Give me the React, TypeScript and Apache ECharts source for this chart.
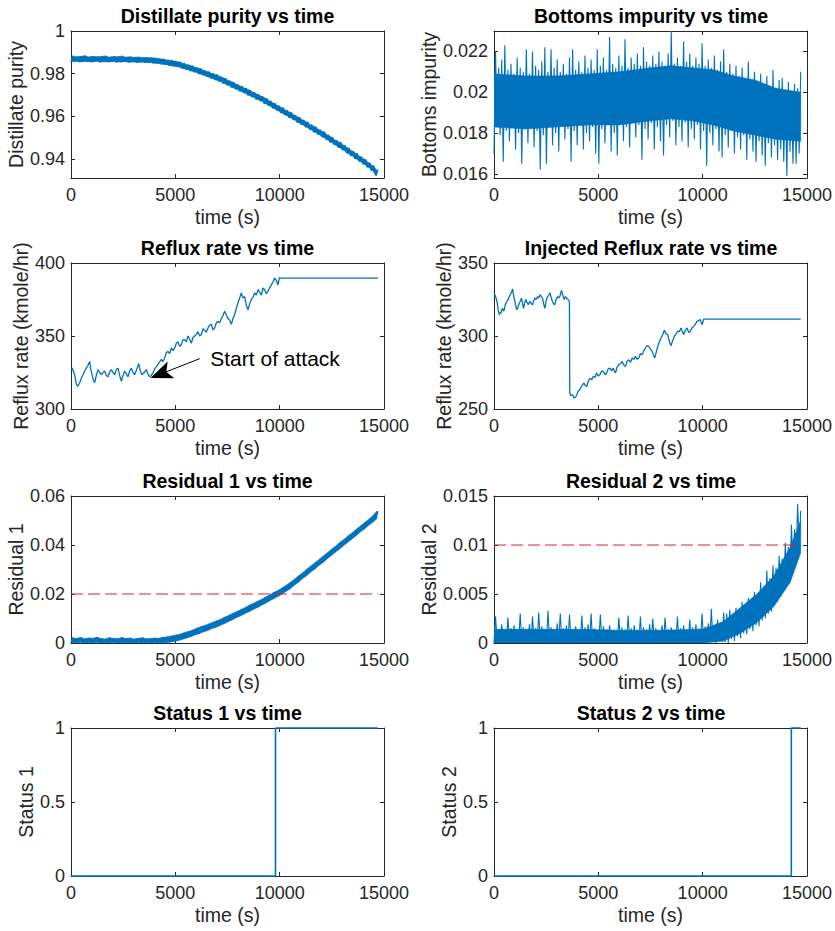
import { useEffect, useRef } from "react";
import * as echarts from "echarts";

// ---------------- data ----------------
const T_END = 14700;
const X_MAX = 15000;
const X_INTERVAL = 5000;
const X_NAME = "time (s)";

// noisy signals: consecutive values (low / high excursions), evenly spaced in time from 0 to T_END
const distillatePurity = [
  0.9856, 0.9882, 0.9858, 0.9879, 0.9855, 0.988, 0.9857, 0.9884, 0.9856, 0.9878,
  0.9855, 0.9881, 0.9858, 0.9879, 0.9854, 0.988, 0.9856, 0.9883, 0.9855, 0.9877,
  0.9857, 0.988, 0.9854, 0.9879, 0.9855, 0.9882, 0.9856, 0.9877, 0.9853, 0.9879,
  0.9855, 0.9876, 0.9852, 0.9878, 0.9854, 0.9875, 0.9851, 0.9876, 0.9852, 0.9874,
  0.9849, 0.9873, 0.9848, 0.987, 0.9844, 0.9868, 0.9842, 0.9864, 0.9837, 0.9862,
  0.9835, 0.9858, 0.9831, 0.9855, 0.9824, 0.9848, 0.9819, 0.9841, 0.9812, 0.9837,
  0.9807, 0.9829, 0.9799, 0.9824, 0.9793, 0.9815, 0.9785, 0.9809, 0.9778, 0.98,
  0.977, 0.9795, 0.9763, 0.9785, 0.9753, 0.9778, 0.9745, 0.9767, 0.9735, 0.976,
  0.9727, 0.9749, 0.9717, 0.9741, 0.9709, 0.9731, 0.9698, 0.9723, 0.969, 0.9712,
  0.9679, 0.9703, 0.9671, 0.9693, 0.9659, 0.9684, 0.9649, 0.9671, 0.9637, 0.9661,
  0.9627, 0.9649, 0.9615, 0.964, 0.9605, 0.9627, 0.9593, 0.9618, 0.9583, 0.9605,
  0.957, 0.9595, 0.956, 0.9582, 0.9548, 0.9573, 0.9537, 0.9559, 0.9525, 0.955,
  0.9514, 0.9536, 0.9502, 0.9527, 0.949, 0.9512, 0.9477, 0.9502, 0.9465, 0.9487,
  0.9452, 0.9477, 0.9441, 0.9463, 0.9426, 0.9451, 0.9414, 0.9436, 0.94, 0.9425,
  0.9388, 0.941, 0.9374, 0.9398, 0.936, 0.9382, 0.9344, 0.9368, 0.9322, 0.9348,
];

const bottomsImpurity = [
  0.017, 0.022, 0.0183, 0.0212, 0.0179, 0.0216, 0.0166, 0.0223, 0.0181, 0.0211,
  0.0176, 0.0214, 0.0184, 0.0209, 0.0172, 0.0217, 0.018, 0.0212, 0.0165, 0.021,
  0.0182, 0.0221, 0.0175, 0.0209, 0.0183, 0.022, 0.0173, 0.0213, 0.0181, 0.0211,
  0.0162, 0.0215, 0.0179, 0.0222, 0.0165, 0.021, 0.0184, 0.0221, 0.0174, 0.0212,
  0.018, 0.0216, 0.0171, 0.021, 0.0183, 0.0214, 0.0177, 0.0209, 0.0182, 0.0217,
  0.0166, 0.0221, 0.0181, 0.0211, 0.0174, 0.0215, 0.0184, 0.021, 0.0172, 0.0218,
  0.018, 0.0212, 0.0176, 0.0216, 0.0183, 0.0211, 0.017, 0.0221, 0.0165, 0.0213,
  0.0182, 0.0217, 0.0175, 0.0211, 0.0184, 0.0227, 0.0171, 0.0214, 0.018, 0.0212,
  0.0169, 0.0218, 0.0185, 0.0213, 0.0176, 0.0226, 0.0183, 0.0212, 0.0173, 0.0217,
  0.0186, 0.0214, 0.0178, 0.0219, 0.0184, 0.0213, 0.0167, 0.0222, 0.0182, 0.0215,
  0.0177, 0.0213, 0.0185, 0.0218, 0.0172, 0.0214, 0.0183, 0.022, 0.0176, 0.0215,
  0.0169, 0.0213, 0.0184, 0.0219, 0.0178, 0.023, 0.0186, 0.0214, 0.0174, 0.0217,
  0.0183, 0.0213, 0.0176, 0.0225, 0.0185, 0.0215, 0.0173, 0.0219, 0.0182, 0.0213,
  0.0177, 0.0217, 0.0184, 0.0214, 0.0172, 0.0224, 0.0181, 0.0213, 0.0164, 0.0216,
  0.018, 0.0212, 0.0174, 0.0218, 0.0182, 0.0211, 0.0171, 0.0215, 0.0168, 0.0221,
  0.0179, 0.021, 0.0173, 0.0214, 0.0181, 0.0209, 0.017, 0.0213, 0.0178, 0.0208,
  0.0172, 0.0212, 0.0179, 0.0207, 0.0167, 0.0215, 0.0177, 0.0206, 0.0171, 0.021,
  0.0166, 0.0205, 0.0176, 0.0209, 0.0169, 0.0204, 0.0164, 0.0208, 0.0175, 0.0203,
  0.0168, 0.0211, 0.0174, 0.0202, 0.0167, 0.0206, 0.0172, 0.0207, 0.0166, 0.0201,
  0.0159, 0.0205, 0.0171, 0.02, 0.0165, 0.0204, 0.0165, 0.0202, 0.017, 0.021,
];
// dense core of the bottoms-impurity band (where the trace is solid)
const bottomsCoreTimes = [0, 1500, 3000, 4500, 6000, 7500, 8500, 9500, 10500, 11500, 12500, 13500, 14700];
const bottomsCoreLow = [0.0183, 0.0182, 0.0183, 0.0184, 0.0184, 0.0186, 0.0187, 0.0186, 0.0184, 0.0181, 0.0179, 0.0177, 0.0176];
const bottomsCoreHigh = [0.0209, 0.0208, 0.0208, 0.0209, 0.021, 0.0212, 0.0213, 0.0212, 0.0211, 0.0208, 0.0206, 0.0202, 0.02];

const refluxRate: [number, number][] = [
  [0, 327], [48, 328], [110, 326], [176, 323.5], [240, 318], [304, 315.5], [360, 316.5],
  [415, 318], [495, 321], [575, 323.5], [655, 326], [735, 328], [815, 330], [895, 332.6],
  [950, 327], [1006, 323.5], [1070, 320], [1134, 318], [1214, 323], [1294, 327], [1374, 325],
  [1454, 323.5], [1533, 325], [1613, 326], [1693, 323], [1773, 322], [1853, 325.5], [1933, 327],
  [2013, 325], [2093, 323.5], [2173, 327], [2252, 328], [2332, 323], [2412, 319], [2492, 323],
  [2572, 326], [2652, 324], [2732, 322], [2811, 326], [2891, 328], [2971, 325], [3051, 323.5],
  [3147, 327], [3243, 331], [3322, 326], [3402, 323.5], [3506, 325], [3610, 327], [3690, 324],
  [3770, 322], [3850, 323], [3930, 324.7], [4010, 327.5], [4089, 329], [4209, 331.5],
  [4329, 334], [4409, 332.5], [4489, 335], [4568, 338.5], [4648, 339.5], [4728, 338],
  [4808, 341.8], [4888, 340], [4968, 341.8], [5048, 345], [5128, 346], [5208, 343],
  [5287, 344], [5367, 347.5], [5447, 347.5], [5527, 346], [5607, 350], [5687, 348],
  [5767, 345], [5847, 349], [5926, 350], [6006, 351], [6086, 353], [6166, 350], [6246, 351],
  [6326, 355], [6406, 354], [6486, 352.5], [6565, 355.5], [6645, 357.5], [6725, 358],
  [6805, 354], [6885, 355.5], [6965, 359], [7045, 360], [7125, 359], [7204, 362], [7284, 364],
  [7364, 367], [7444, 364.5], [7524, 362], [7604, 361], [7684, 358], [7764, 362],
  [7843, 364.6], [7923, 369], [8003, 372.6], [8083, 376], [8163, 379.5], [8243, 376],
  [8323, 377], [8403, 371], [8482, 368], [8562, 372], [8642, 375], [8722, 376.5],
  [8802, 379.5], [8882, 378], [8962, 381.7], [9042, 380], [9121, 378], [9201, 383],
  [9281, 381.7], [9361, 379], [9441, 380.6], [9521, 383], [9601, 385], [9680, 387],
  [9760, 389.7], [9840, 388], [9920, 385], [9990, 390], [10048, 389.7], [14712, 389.7],
];

const injectedReflux: [number, number][] = [
  [0, 327], [48, 328.3], [95, 326], [143, 323.7], [199, 318], [255, 314.6], [295, 316],
  [334, 315.8], [374, 318], [414, 319], [454, 317], [494, 318], [533, 321], [573, 322.6],
  [629, 324], [685, 325], [733, 327], [780, 328.3], [836, 330], [892, 332.2], [948, 327],
  [1003, 323.7], [1050, 320], [1098, 318], [1154, 320], [1210, 322.6], [1265, 324],
  [1321, 326], [1369, 322], [1417, 319], [1473, 323], [1528, 325], [1584, 323],
  [1640, 321.5], [1688, 323], [1735, 323.7], [1791, 322], [1847, 321.5], [1903, 324],
  [1958, 326], [2022, 325], [2086, 327], [2150, 326], [2213, 328.3], [2268, 327], [2324, 326],
  [2380, 322], [2436, 319], [2500, 324], [2563, 327], [2627, 328], [2690, 329.5], [2746, 326],
  [2802, 323.7], [2857, 322], [2913, 321.5], [2977, 325], [3041, 327], [3080, 326.5],
  [3120, 326], [3176, 328], [3232, 331.3], [3296, 328], [3359, 325], [3423, 327], [3486, 326],
  [3550, 325], [3614, 323.7], [3630, 261], [3690, 259], [3757, 259.8], [3836, 257.5],
  [3916, 258.2], [3972, 260], [4028, 262], [4092, 263], [4155, 264.4], [4235, 266.5],
  [4314, 267.8], [4378, 266], [4442, 265.4], [4522, 269], [4601, 271], [4680, 270],
  [4760, 272.4], [4840, 271.5], [4919, 274.7], [4999, 272.5], [5078, 273.6], [5158, 276],
  [5238, 275.8], [5318, 273.5], [5397, 274.7], [5477, 277.5], [5556, 278], [5636, 276],
  [5715, 278], [5771, 276], [5827, 274.7], [5906, 279], [5986, 280.4], [6066, 281],
  [6145, 282.6], [6225, 280], [6304, 279.2], [6384, 283], [6464, 283.7], [6544, 282],
  [6623, 285], [6703, 284], [6782, 286], [6862, 284], [6941, 285], [7021, 288], [7100, 287.2],
  [7180, 290], [7260, 291.8], [7340, 293.5], [7419, 292.9], [7499, 291], [7578, 289.5],
  [7642, 287], [7705, 285], [7777, 289], [7849, 293], [7929, 296], [8008, 298.6], [8088, 301],
  [8167, 303.9], [8247, 301.5], [8326, 301], [8406, 296], [8485, 293.4], [8565, 297],
  [8645, 299.8], [8725, 301.5], [8804, 303.2], [8884, 303], [8963, 305.5], [9027, 303],
  [9090, 301], [9170, 304], [9250, 305.5], [9330, 302.5], [9409, 303.2], [9489, 305.5],
  [9568, 306.6], [9648, 308], [9727, 310], [9807, 310.5], [9886, 311.2], [9934, 309],
  [9982, 307.8], [10045, 311.6], [14700, 311.6],
];

const residual1 = [
  0.0002, 0.0021, 0.0001, 0.0018, 0.0003, 0.0022, 0.0001, 0.0017, 0.0002, 0.002,
  0.0, 0.0019, 0.0003, 0.0023, 0.0001, 0.0018, 0.0002, 0.0016, 0.0001, 0.0021,
  0.0003, 0.0019, 0.0, 0.0017, 0.0002, 0.0022, 0.0001, 0.0018, 0.0002, 0.002,
  0.0, 0.0016, 0.0002, 0.0019, 0.0001, 0.0021, 0.0002, 0.0017, 0.0, 0.0018,
  0.0002, 0.002, 0.0001, 0.0019, 0.0002, 0.0023, 0.0002, 0.0025, 0.0004, 0.0028,
  0.0007, 0.0032, 0.0011, 0.0035, 0.0016, 0.0041, 0.0021, 0.0046, 0.0027, 0.0051,
  0.0034, 0.0058, 0.0039, 0.0065, 0.0046, 0.007, 0.0051, 0.0077, 0.0059, 0.0083,
  0.0064, 0.009, 0.0072, 0.0096, 0.0079, 0.0105, 0.0088, 0.0112, 0.0095, 0.0121,
  0.0104, 0.0128, 0.0111, 0.0137, 0.012, 0.0144, 0.0128, 0.0154, 0.0137, 0.0161,
  0.0144, 0.017, 0.0154, 0.0178, 0.0162, 0.0188, 0.0172, 0.0196, 0.0181, 0.0207,
  0.019, 0.0214, 0.0199, 0.0225, 0.0211, 0.0236, 0.0221, 0.0247, 0.0236, 0.026,
  0.0248, 0.0274, 0.0263, 0.0287, 0.0275, 0.0301, 0.029, 0.0314, 0.0302, 0.0328,
  0.0317, 0.0341, 0.0329, 0.0355, 0.0344, 0.0368, 0.0357, 0.0383, 0.0371, 0.0395,
  0.0384, 0.041, 0.0398, 0.0422, 0.0411, 0.0437, 0.0425, 0.0449, 0.0438, 0.0464,
  0.0453, 0.0477, 0.0465, 0.0491, 0.048, 0.0504, 0.0492, 0.0518, 0.0507, 0.0538,
];

const residual2 = [
  0.0, 0.0027, 0.0002, 0.0014, 0.0001, 0.0019, 0.0003, 0.0012, 0.0, 0.0026,
  0.0002, 0.0015, 0.0001, 0.0018, 0.0, 0.0013, 0.0002, 0.003, 0.0001, 0.0016,
  0.0003, 0.0014, 0.0, 0.0019, 0.0001, 0.0027, 0.0002, 0.0015, 0.0, 0.0031,
  0.0001, 0.0017, 0.0002, 0.0013, 0.0, 0.0033, 0.0003, 0.0016, 0.0001, 0.0014,
  0.0, 0.002, 0.0002, 0.003, 0.0001, 0.0015, 0.0, 0.0018, 0.0002, 0.0029,
  0.0001, 0.0014, 0.0, 0.0017, 0.0003, 0.0013, 0.0001, 0.0028, 0.0, 0.0016,
  0.0002, 0.0019, 0.0001, 0.003, 0.0, 0.0015, 0.0002, 0.0013, 0.0001, 0.0029,
  0.0, 0.0017, 0.0003, 0.0014, 0.0001, 0.0018, 0.0002, 0.0008, 0.0, 0.001,
  0.0001, 0.0026, 0.0002, 0.0016, 0.0, 0.0014, 0.0001, 0.0028, 0.0003, 0.0015,
  0.0, 0.0018, 0.0002, 0.0013, 0.0001, 0.0027, 0.0, 0.0016, 0.0002, 0.0014,
  0.0001, 0.0019, 0.0, 0.0025, 0.0002, 0.0015, 0.0001, 0.0013, 0.0, 0.0018,
  0.0003, 0.0026, 0.0001, 0.0014, 0.0, 0.0016, 0.0002, 0.0013, 0.0001, 0.0027,
  0.0, 0.0015, 0.0002, 0.0018, 0.0001, 0.0014, 0.0, 0.0024, 0.0002, 0.0016,
  0.0001, 0.0019, 0.0, 0.0015, 0.0002, 0.003, 0.0001, 0.0017, 0.0, 0.002,
  0.0002, 0.0035, 0.0001, 0.0018, 0.0, 0.0024, 0.0002, 0.0021, 0.0001, 0.0031,
  0.0001, 0.003, 0.0, 0.0034, 0.0004, 0.0028, 0.0002, 0.0036, 0.0007, 0.0033,
  0.0005, 0.0042, 0.001, 0.0038, 0.0009, 0.0046, 0.0014, 0.0043, 0.0012, 0.0052,
  0.0018, 0.005, 0.0017, 0.0062, 0.0023, 0.0058, 0.0025, 0.0074, 0.003, 0.0066,
  0.0032, 0.0079, 0.0038, 0.0077, 0.0042, 0.0089, 0.0047, 0.0086, 0.0053, 0.0102,
  0.006, 0.0098, 0.0066, 0.0121, 0.0075, 0.0116, 0.0083, 0.0142, 0.0098, 0.0135,
];
// dense core of the residual-2 band
const residual2CoreTimes = [0, 2000, 4000, 6000, 8000, 10000, 11000, 11800, 12600, 13400, 14200, 14700];
const residual2CoreLow = [0, 0, 0, 0, 0, 0, 0.0002, 0.001, 0.0021, 0.0037, 0.0062, 0.0092];
const residual2CoreHigh = [0.0014, 0.0014, 0.0014, 0.0013, 0.0013, 0.0014, 0.0022, 0.0036, 0.005, 0.0068, 0.0098, 0.0125];

const threshold1 = 0.02;
const threshold2 = 0.01;

const status1Times = [0, 9800, 9800, 14700];
const status1Values = [0, 0, 1, 1];
const status2Times = [0, 14250, 14250, 14700];
const status2Values = [0, 0, 1, 1];

const attackLabel = "Start of attack";
const attackTail: [number, number] = [6170, 334.5];
const attackHead: [number, number] = [4300, 324];
const attackText: [number, number] = [6650, 334.5];

const titles = [
  "Distillate purity vs time",
  "Bottoms impurity vs time",
  "Reflux rate vs time",
  "Injected Reflux rate vs time",
  "Residual 1 vs time",
  "Residual 2 vs time",
  "Status 1 vs time",
  "Status 2 vs time",
];
const yNames = [
  "Distillate purity",
  "Bottoms impurity",
  "Reflux rate (kmole/hr)",
  "Reflux rate (kmole/hr)",
  "Residual 1",
  "Residual 2",
  "Status 1",
  "Status 2",
];
const yMins = [0.931, 0.0158, 300, 250, 0, 0, 0, 0];
const yMaxs = [1, 0.023, 400, 350, 0.06, 0.015, 1, 1];
const yTicks = [
  [0.94, 0.96, 0.98, 1],
  [0.016, 0.018, 0.02, 0.022],
  [300, 350, 400],
  [250, 300, 350],
  [0, 0.02, 0.04, 0.06],
  [0, 0.005, 0.01, 0.015],
  [0, 0.5, 1],
  [0, 0.5, 1],
];

// ---------------- layout / style ----------------
const BLUE = "#0072BD";
const RED = "#E8221C";
const AXIS = "#262626";
const FONT = "'Liberation Sans', Arial, Helvetica, sans-serif";
const COL_LEFT = [71, 494];
const COL_WIDTH = [313, 314];
const ROW_TOP = [31, 263, 496, 728];
const ROW_HEIGHT = [147, 146, 147, 148];
const Y_NAME_GAP = [45, 54, 38, 39, 45, 54, 34, 34];

function uniform(vals: number[]): [number, number][] {
  const n = vals.length;
  return vals.map((v, k) => [(k * T_END) / (n - 1), v]);
}
function pairs(times: number[], vals: number[]): [number, number][] {
  return times.map((t, i) => [t, vals[i]]);
}
// split an alternating low/high trace into its envelope
function envelope(vals: number[]) {
  const n = vals.length;
  const times: number[] = [];
  const low: number[] = [];
  const high: number[] = [];
  for (let i = 0; i + 1 < n; i += 2) {
    times.push(((i + 0.5) * T_END) / (n - 1));
    low.push(Math.min(vals[i], vals[i + 1]));
    high.push(Math.max(vals[i], vals[i + 1]));
  }
  return { times, low, high };
}

function lineSeries(p: number, data: [number, number][], width: number, extra: any = {}) {
  return {
    type: "line",
    xAxisIndex: 2 * p,
    yAxisIndex: 2 * p,
    data,
    symbol: "none",
    showSymbol: false,
    silent: true,
    animation: false,
    lineStyle: { color: BLUE, width, join: "bevel" },
    itemStyle: { color: BLUE },
    emphasis: { disabled: true },
    ...extra,
  };
}
// filled band between a low and a high envelope, drawn through the axes with api.coord
function bandSeries(p: number, times: number[], low: number[], high: number[]) {
  const data = times.map((t, i) => [t, low[i], high[i]]);
  return {
    type: "custom",
    xAxisIndex: 2 * p,
    yAxisIndex: 2 * p,
    silent: true,
    animation: false,
    clip: true,
    encode: { x: 0, y: [1, 2] },
    data,
    renderItem: (params: any, api: any) => {
      if (params.dataIndex !== 0) return null;
      const pts: number[][] = [];
      for (let i = 0; i < data.length; i++) pts.push(api.coord([data[i][0], data[i][1]]));
      for (let i = data.length - 1; i >= 0; i--) pts.push(api.coord([data[i][0], data[i][2]]));
      return {
        type: "polygon",
        shape: { points: pts },
        style: { fill: BLUE, stroke: BLUE, lineWidth: 0.6 },
      };
    },
  };
}
function thresholdSeries(p: number, value: number) {
  return {
    type: "line",
    xAxisIndex: 2 * p,
    yAxisIndex: 2 * p,
    data: [
      [0, value],
      [T_END, value],
    ],
    symbol: "none",
    silent: true,
    animation: false,
    lineStyle: { color: RED, width: 1.1, type: [12, 5] },
    emphasis: { disabled: true },
  };
}

function buildOption() {
  const grid: any[] = [];
  const xAxis: any[] = [];
  const yAxis: any[] = [];
  const title: any[] = [];
  const axisLine = { show: true, onZero: false, lineStyle: { color: AXIS, width: 1 } };
  const tickStyle = { color: AXIS, width: 1 };
  const labelFont = { color: AXIS, fontSize: 18, fontFamily: FONT };
  const nameFont = { color: AXIS, fontSize: 19.5, fontFamily: FONT };

  for (let p = 0; p < 8; p++) {
    const r = Math.floor(p / 2);
    const c = p % 2;
    grid.push({
      left: COL_LEFT[c],
      top: ROW_TOP[r],
      width: COL_WIDTH[c],
      height: ROW_HEIGHT[r],
      containLabel: false,
      show: false,
    });
    title.push({
      text: titles[p],
      left: COL_LEFT[c] + COL_WIDTH[c] / 2,
      top: ROW_TOP[r] - 25,
      textAlign: "center",
      textVerticalAlign: "top",
      padding: 0,
      textStyle: { fontFamily: FONT, fontSize: 19.5, fontWeight: "bold", color: "#000" },
    });
    const xc = {
      type: "value",
      gridIndex: p,
      min: 0,
      max: X_MAX,
      interval: X_INTERVAL,
      splitLine: { show: false },
      axisLine,
      axisTick: { show: true, inside: true, length: 4, lineStyle: tickStyle },
    };
    xAxis.push({
      ...xc,
      position: "bottom",
      name: X_NAME,
      nameLocation: "middle",
      nameGap: 29,
      nameTextStyle: nameFont,
      axisLabel: { show: true, margin: 8, ...labelFont, formatter: (v: number) => String(v) },
    });
    xAxis.push({ ...xc, position: "top", axisLabel: { show: false } });

    const yc = {
      type: "value",
      gridIndex: p,
      min: yMins[p],
      max: yMaxs[p],
      splitLine: { show: false },
      axisLine,
      axisTick: { show: true, inside: true, length: 4, lineStyle: tickStyle, customValues: yTicks[p] },
    };
    yAxis.push({
      ...yc,
      position: "left",
      name: yNames[p],
      nameLocation: "middle",
      nameRotate: 90,
      nameGap: Y_NAME_GAP[p],
      nameTextStyle: nameFont,
      axisLabel: {
        show: true,
        margin: 6,
        ...labelFont,
        customValues: yTicks[p],
        formatter: (v: number) => String(v),
      },
    });
    yAxis.push({ ...yc, position: "right", axisLabel: { show: false } });
  }

  const distEnv = envelope(distillatePurity);
  const res1Env = envelope(residual1);

  const series: any[] = [
    bandSeries(0, distEnv.times, distEnv.low, distEnv.high),
    lineSeries(0, uniform(distillatePurity), 1.7),
    bandSeries(1, bottomsCoreTimes, bottomsCoreLow, bottomsCoreHigh),
    lineSeries(1, uniform(bottomsImpurity), 1.1),
    lineSeries(2, refluxRate, 1.3, {
      markLine: {
        silent: true,
        animation: false,
        symbol: ["none", "none"],
        label: { show: false },
        lineStyle: { color: "#000", width: 1, type: "solid" },
        emphasis: { disabled: true },
        data: [
          [
            { coord: attackTail, symbol: "none" },
            {
              coord: attackHead,
              symbol: "path://M9,0L18,22L9,17L0,22Z",
              symbolSize: [18, 22],
            },
          ],
        ],
      },
      markPoint: {
        silent: true,
        animation: false,
        symbol: "circle",
        symbolSize: 1,
        itemStyle: { color: "rgba(0,0,0,0)" },
        label: {
          show: true,
          position: "right",
          distance: 0,
          formatter: attackLabel,
          color: "#000",
          fontSize: 21,
          fontFamily: FONT,
        },
        data: [{ coord: attackText }],
      },
    }),
    lineSeries(3, injectedReflux, 1.3),
    bandSeries(4, res1Env.times, res1Env.low, res1Env.high),
    lineSeries(4, uniform(residual1), 1.7),
    thresholdSeries(4, threshold1),
    bandSeries(5, residual2CoreTimes, residual2CoreLow, residual2CoreHigh),
    lineSeries(5, uniform(residual2), 1.1),
    thresholdSeries(5, threshold2),
    lineSeries(6, pairs(status1Times, status1Values), 1.6, { clip: false }),
    lineSeries(7, pairs(status2Times, status2Values), 1.6, { clip: false }),
  ];

  return {
    animation: false,
    backgroundColor: "#ffffff",
    textStyle: { fontFamily: FONT },
    title,
    grid,
    xAxis,
    yAxis,
    series,
  };
}

export default function App() {
  const ref = useRef<HTMLDivElement>(null);
  useEffect(() => {
    if (!ref.current) return;
    const chart = echarts.init(ref.current, null, { renderer: "svg" });
    chart.setOption(buildOption() as any);
    return () => chart.dispose();
  }, []);
  return (
    <div
      ref={ref}
      style={{ position: "absolute", left: 0, top: 0, width: 835, height: 931, background: "#fff" }}
    />
  );
}
